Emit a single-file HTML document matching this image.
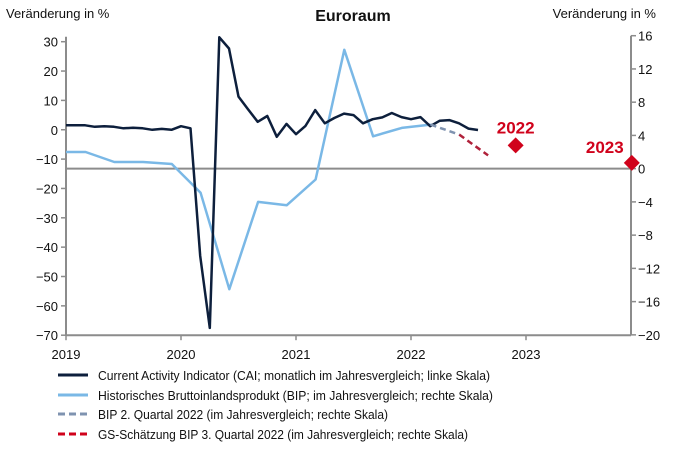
<!DOCTYPE html>
<html><head><meta charset="utf-8"><style>
html,body{margin:0;padding:0;background:#fff;}
svg{display:block;font-family:"Liberation Sans",sans-serif;}
</style></head><body>
<svg id="chart" width="700" height="449" viewBox="0 0 700 449" xmlns="http://www.w3.org/2000/svg">
<text x="353" y="21" text-anchor="middle" font-size="16" font-weight="bold" fill="#111">Euroraum</text>
<text x="6" y="18" font-size="13" fill="#111">Veränderung in %</text>
<text x="656" y="18" text-anchor="end" font-size="13" fill="#111">Veränderung in %</text>
<g id="axes"></g>
<g id="series"></g>
<g id="legend">
 <line x1="58" y1="375" x2="88" y2="375" stroke="#0d1f3c" stroke-width="3"/>
 <text x="98" y="380" font-size="13" fill="#111" textLength="392" lengthAdjust="spacingAndGlyphs">Current Activity Indicator (CAI; monatlich im Jahresvergleich; linke Skala)</text>
 <line x1="58" y1="395" x2="88" y2="395" stroke="#7ab8e6" stroke-width="3"/>
 <text x="98" y="400" font-size="13" fill="#111" textLength="395" lengthAdjust="spacingAndGlyphs">Historisches Bruttoinlandsprodukt (BIP; im Jahresvergleich; rechte Skala)</text>
 <line x1="58" y1="414" x2="88" y2="414" stroke="#7f93b0" stroke-width="3" stroke-dasharray="7,4"/>
 <text x="98" y="419" font-size="13" fill="#111" textLength="290" lengthAdjust="spacingAndGlyphs">BIP 2. Quartal 2022 (im Jahresvergleich; rechte Skala)</text>
 <line x1="58" y1="434" x2="88" y2="434" stroke="#d0021b" stroke-width="3" stroke-dasharray="7,4"/>
 <text x="98" y="439" font-size="13" fill="#111" textLength="370" lengthAdjust="spacingAndGlyphs">GS-Schätzung BIP 3. Quartal 2022 (im Jahresvergleich; rechte Skala)</text>
</g>
</svg>
<script>
const leftTicks=[30,20,10,0,-10,-20,-30,-40,-50,-60,-70];
const rightTicks=[16,12,8,4,0,-4,-8,-12,-16,-20];
const yearTicks=[2019,2020,2021,2022,2023];
const caiDates=[2019.0,2019.083,2019.167,2019.25,2019.333,2019.417,2019.5,2019.583,2019.667,2019.75,2019.833,2019.917,2020.0,2020.083,2020.167,2020.25,2020.333,2020.417,2020.5,2020.583,2020.667,2020.75,2020.833,2020.917,2021.0,2021.083,2021.167,2021.25,2021.333,2021.417,2021.5,2021.583,2021.667,2021.75,2021.833,2021.917,2022.0,2022.083,2022.167,2022.25,2022.333,2022.417,2022.5,2022.583];
const caiValues=[1.5,1.5,1.5,1,1.2,1,0.5,0.7,0.5,0,0.3,0,1.2,0.5,-43,-67.5,31.5,27.7,11.3,7,2.7,4.7,-2.4,2,-1.5,1.3,6.7,2.2,4,5.5,5,2.2,3.6,4.2,5.7,4.3,3.6,4.3,1.2,3.1,3.3,2.2,0.4,-0.1];
const gdpDates=[2019.0,2019.17,2019.42,2019.67,2019.92,2020.17,2020.42,2020.67,2020.92,2021.17,2021.42,2021.67,2021.92,2022.17];
const gdpValues=[2.0,2.0,0.8,0.8,0.56,-2.9,-14.5,-4.0,-4.4,-1.3,14.3,3.9,4.9,5.3];
const q2Dates=[2022.17,2022.42];
const q2Values=[5.3,4.1];
const gsDates=[2022.42,2022.67];
const gsValues=[4.1,1.6];
const forecastYears=["2022","2023"];
const forecastDates=[2022.91,2023.92];
const forecastValues=[2.8,0.7];

const X0=66,X1=631;
const xs=t=>X0+(t-2019)*115;
const yl=v=>41.7+(30-v)*2.935;
const yr=v=>35.7+(16-v)*8.31;
const NS="http://www.w3.org/2000/svg";
function mk(tag,attrs,parent,txt){const e=document.createElementNS(NS,tag);for(const k in attrs)e.setAttribute(k,attrs[k]);if(txt!==undefined)e.textContent=txt;parent.appendChild(e);return e;}
const axes=document.getElementById('axes'),series=document.getElementById('series');
const G="#8c8c8c";
let e;
e=mk('line',{x1:X0,y1:yl(30)-5,x2:X0,y2:yl(-70),stroke:G,'stroke-width':2},axes);


e=mk('line',{x1:X1,y1:yr(16),x2:X1,y2:yr(-20),stroke:G,'stroke-width':2},axes);


e=mk('line',{x1:X0,y1:yl(-70),x2:X1,y2:yl(-70),stroke:G,'stroke-width':2},axes);


e=mk('line',{x1:X0,y1:yr(0),x2:X1,y2:yr(0),stroke:G,'stroke-width':2},axes);


leftTicks.forEach(v=>{
 mk('line',{x1:X0-5,y1:yl(v),x2:X0,y2:yl(v),stroke:G,'stroke-width':1.5},axes);
 e=mk('text',{x:X0-8,y:yl(v)+5,'text-anchor':'end','font-size':13,fill:'#111'},axes,v<0?'\u2212'+(-v):String(v));
 
 
});
rightTicks.forEach(v=>{
 mk('line',{x1:X1,y1:yr(v),x2:X1+5,y2:yr(v),stroke:G,'stroke-width':1.5},axes);
 e=mk('text',{x:X1+7,y:yr(v)+5,'font-size':13,fill:'#111'},axes,v<0?'\u2212'+(-v):String(v));
 
 
});
yearTicks.forEach(t=>{
 mk('line',{x1:xs(t),y1:yl(-70),x2:xs(t),y2:yl(-70)+5,stroke:G,'stroke-width':1.5},axes);
 e=mk('text',{x:xs(t),y:359,'text-anchor':'middle','font-size':13,fill:'#111'},axes,String(t));
 
 
});
function pts(d,v,f){return d.map((t,i)=>xs(t).toFixed(1)+','+f(v[i]).toFixed(1)).join(' ');}
e=mk('polyline',{points:pts(gdpDates,gdpValues,yr),fill:'none',stroke:'#7ab8e6','stroke-width':2.5,'stroke-linejoin':'round'},series);


e=mk('polyline',{points:pts(caiDates,caiValues,yl),fill:'none',stroke:'#0d1f3c','stroke-width':2.5,'stroke-linejoin':'round'},series);


e=mk('polyline',{points:pts(q2Dates,q2Values,yr),fill:'none',stroke:'#7f93b0','stroke-width':2.5,'stroke-dasharray':'6,4'},series);


e=mk('polyline',{points:pts(gsDates,gsValues,yr),fill:'none',stroke:'#b0213a','stroke-width':2.5,'stroke-dasharray':'6,4'},series);


forecastDates.forEach((t,i)=>{
 const cx=xs(t),cy=yr(forecastValues[i]);
 e=mk('polygon',{points:`${cx},${cy-8} ${cx+8},${cy} ${cx},${cy+8} ${cx-8},${cy}`,fill:'#d0021b'},series);
 
 
 const lx=i===0?cx:cx-27,ly=i===0?cy-12:cy-10;
 e=mk('text',{x:lx,y:ly,'text-anchor':'middle','font-size':17,'font-weight':'bold',fill:'#d0021b'},series,forecastYears[i]);
 
 
});
</script>
</body></html>
